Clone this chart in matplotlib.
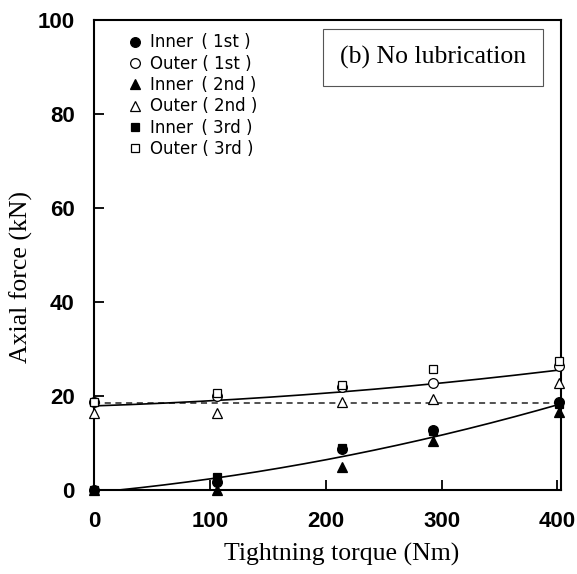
import numpy as np
import matplotlib
matplotlib.use("Agg")
import matplotlib.pyplot as plt

# Tightening torque (Nm) at each measurement step
torque = [0, 106, 214, 293, 401]

# Axial force (kN) for each bolt position and test run
inner_1st = [0.0, 1.7, 8.7, 12.8, 18.7]
outer_1st = [18.7, 20.0, 22.0, 22.7, 26.5]
inner_2nd = [0.0, 0.0, 4.9, 10.4, 16.6]
outer_2nd = [16.4, 16.4, 18.7, 19.5, 22.7]
inner_3rd = [0.0, 2.8, 9.0, 12.5, 18.3]
outer_3rd = [18.8, 20.6, 22.3, 25.7, 27.4]

# Initial axial force level (dashed reference)
initial_force = 18.5

x_ticks = [0, 100, 200, 300, 400]
y_ticks = [0, 20, 40, 60, 80, 100]

fig = plt.figure(figsize=(5.77, 5.74), dpi=100)
ax = fig.add_axes([0.163, 0.146, 0.809, 0.819])

ms = 7
series = [
    (inner_1st, "o", "black", "Inner\u2002( 1st )"),
    (outer_1st, "o", "white", "Outer ( 1st )"),
    (inner_2nd, "^", "black", "Inner\u2002( 2nd )"),
    (outer_2nd, "^", "white", "Outer ( 2nd )"),
    (inner_3rd, "s", "black", "Inner\u2002( 3rd )"),
    (outer_3rd, "s", "white", "Outer ( 3rd )"),
]
handles = []
for vals, mk, fc, lab in series:
    h, = ax.plot(torque, vals, linestyle="none", marker=mk,
                 markersize=ms if mk != "s" else ms - 1.0,
                 markerfacecolor=fc, markeredgecolor="black", markeredgewidth=0.9,
                 label=lab, zorder=4, clip_on=False)
    handles.append(h)

# Quadratic trend curves for inner and outer positions
xs = np.linspace(0, 401, 200)
inner_all_x = np.array(torque * 3)
inner_all_y = np.array(inner_1st + inner_2nd + inner_3rd)
outer_all_x = np.array(torque * 3)
outer_all_y = np.array(outer_1st + outer_2nd + outer_3rd)
pin = np.polyfit(inner_all_x, inner_all_y, 2)
pout = np.polyfit(outer_all_x, outer_all_y, 2)
yin = np.polyval(pin, xs)
ax.plot(xs[yin >= 0], yin[yin >= 0], color="black", lw=1.2, zorder=3)
ax.plot(xs, np.polyval(pout, xs), color="black", lw=1.2, zorder=3)

ax.plot([0, 401], [initial_force, initial_force], color="#222222", lw=1.1,
        linestyle=(0, (4, 3)), zorder=2)

ax.set_xlim(0, 403)
ax.set_ylim(0, 100)
ax.set_xticks(x_ticks)
ax.set_yticks(y_ticks)
ax.tick_params(direction="in", length=7, width=1.3, top=False, right=False)
ax.tick_params(axis="x", pad=15)
ax.tick_params(axis="y", pad=14)
for lab in ax.get_xticklabels() + ax.get_yticklabels():
    lab.set_fontfamily("Liberation Sans")
    lab.set_fontweight("bold")
    lab.set_fontsize(16)
for s in ax.spines.values():
    s.set_linewidth(1.5)

ax.set_xlabel("Tightning torque (Nm)", fontfamily="Liberation Serif", fontsize=18.5)
ax.set_ylabel("Axial force (kN)", fontfamily="Liberation Serif", fontsize=18.5)
ax.xaxis.set_label_coords(0.531, -0.112)
ax.yaxis.set_label_coords(-0.13, 0.453)

leg = ax.legend(handles=handles, loc="upper left", bbox_to_anchor=(0.045, 0.993),
                frameon=False, prop={"family": "DejaVu Sans", "size": 12},
                handletextpad=0.3, labelspacing=0.2, handlelength=1.2,
                borderaxespad=0.2)

ax.text(0.727, 0.921, "(b) No lubrication", transform=ax.transAxes,
        fontfamily="Liberation Serif", fontsize=18.5, ha="center", va="center",
        bbox=dict(boxstyle="square,pad=0.66", facecolor="white",
                  edgecolor="#555555", linewidth=0.8))

fig.savefig("out.png", dpi=100)
